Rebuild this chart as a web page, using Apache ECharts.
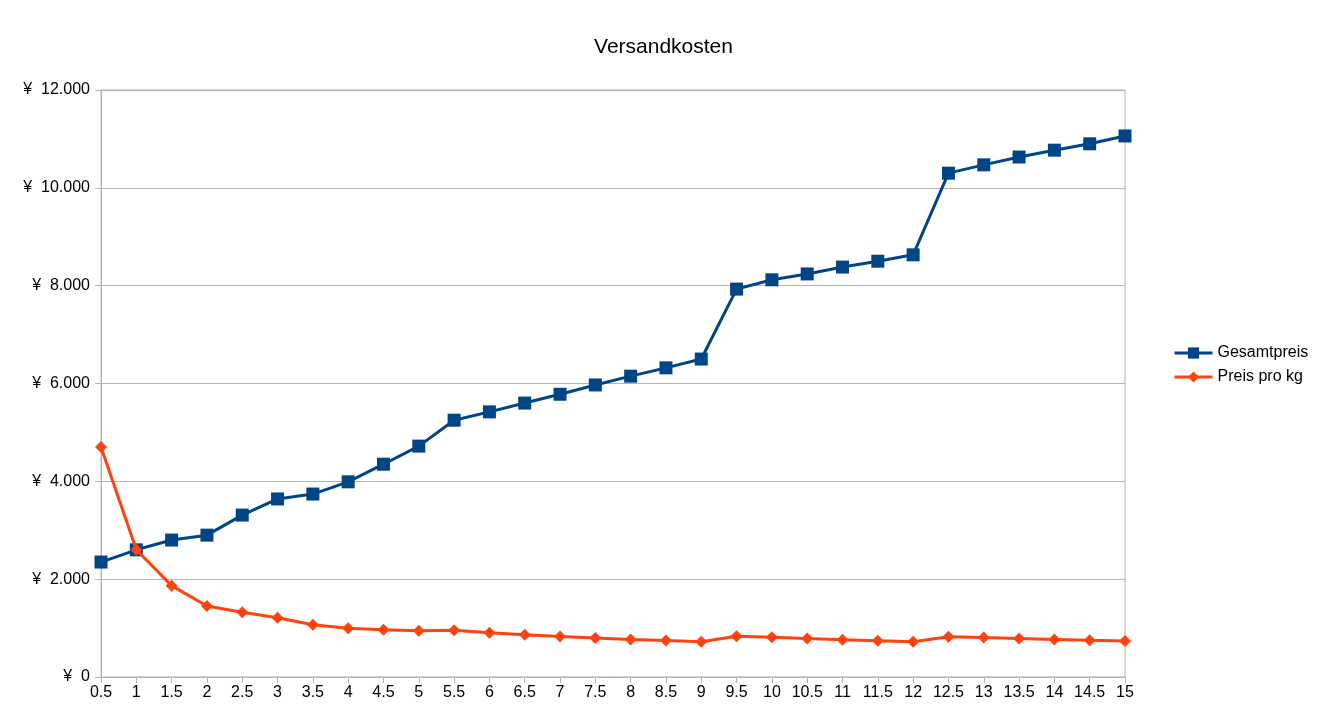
<!DOCTYPE html>
<html><head><meta charset="utf-8">
<script src="https://cdn.jsdelivr.net/npm/echarts@6/dist/echarts.min.js"></script>
<style>html,body{margin:0;padding:0;background:#fff}#c{width:1327px;height:718px}</style>
</head><body><div id="c"></div>
<script>
var categories = ['0.5','1','1.5','2','2.5','3','3.5','4','4.5','5','5.5','6','6.5','7','7.5','8','8.5','9','9.5','10','10.5','11','11.5','12','12.5','13','13.5','14','14.5','15'];
var gesamtpreis = [2350,2600,2800,2900,3310,3640,3740,3990,4350,4720,5250,5420,5600,5780,5970,6150,6320,6500,7930,8120,8240,8380,8500,8630,10300,10470,10630,10770,10900,11060];
var preisProKg = [4700,2600,1867,1450,1324,1213,1069,998,967,944,955,903,862,826,796,769,744,722,835,812,785,762,739,719,824,805,787,769,752,737];
var seriesNames = ['Gesamtpreis','Preis pro kg'];
var yTicks = {min:0, max:12000, interval:2000};

function fmt(v){
  var s = String(Math.round(v));
  s = s.replace(/\B(?=(\d{3})+(?!\d))/g, '.');
  return '¥\u00a0\u00a0' + s;
}
var chart = echarts.init(document.getElementById('c'), null, {renderer:'canvas'});
var font = '"Liberation Sans", Arial, sans-serif';
chart.setOption({
  animation:false,
  textStyle:{fontFamily:font},
  title:{text:'Versandkosten', left:'center', top:32, textStyle:{fontFamily:font, fontSize:21, fontWeight:'normal', color:'#000'}},
  grid:{left:101, right:202, top:90, bottom:41, show:true, borderColor:'#b3b3b3', borderWidth:1},
  legend:{orient:'vertical', left:1173, top:345, padding:0, itemWidth:38, itemHeight:14, itemGap:8,
    lineStyle:{width:3},
    textStyle:{fontFamily:font, fontSize:16, color:'#000'}, data:seriesNames},
  xAxis:{type:'category', data:categories, boundaryGap:false,
    axisLine:{lineStyle:{color:'#b3b3b3'}},
    axisTick:{show:true, alignWithLabel:true, length:6, lineStyle:{color:'#b3b3b3'}},
    axisLabel:{color:'#000', fontSize:16, fontFamily:font, margin:8, interval:0},
    splitLine:{show:false}},
  yAxis:{type:'value', min:yTicks.min, max:yTicks.max, interval:yTicks.interval,
    axisLine:{show:true, lineStyle:{color:'#b3b3b3'}},
    axisTick:{show:true, length:6, lineStyle:{color:'#b3b3b3'}},
    axisLabel:{color:'#000', fontSize:16, fontFamily:font, margin:11, formatter:fmt},
    splitLine:{lineStyle:{color:'#b3b3b3'}}},
  series:[
    {name:seriesNames[0], type:'line', data:gesamtpreis, symbol:'rect', symbolSize:13,
      lineStyle:{color:'#004586', width:3}, itemStyle:{color:'#004586'}, z:2},
    {name:seriesNames[1], type:'line', data:preisProKg, symbol:'diamond', symbolSize:12,
      lineStyle:{color:'#ff420e', width:3}, itemStyle:{color:'#ff420e'}, z:3}
  ]
});
</script></body></html>
